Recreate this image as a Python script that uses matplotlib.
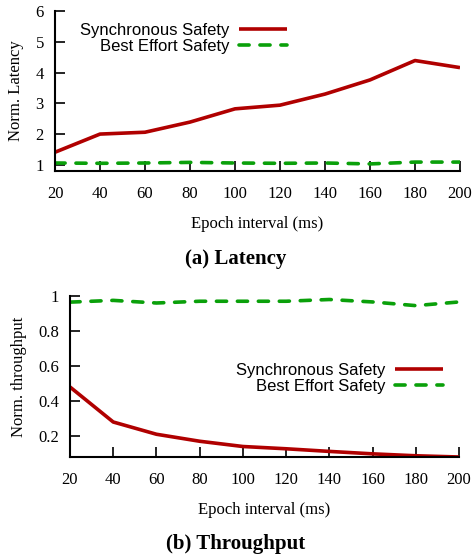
import matplotlib
matplotlib.use("Agg")
import matplotlib.pyplot as plt
import numpy as np

# data
epoch_ms = [20, 40, 60, 80, 100, 120, 140, 160, 180, 200]
lat_sync = [1.41, 2.00, 2.06, 2.39, 2.82, 2.94, 3.30, 3.76, 4.39, 4.16]
lat_best = [1.06, 1.05, 1.06, 1.08, 1.06, 1.05, 1.06, 1.03, 1.09, 1.09]
thr_sync = [0.48, 0.28, 0.21, 0.17, 0.14, 0.127, 0.112, 0.098, 0.087, 0.08]
thr_best = [0.965, 0.975, 0.96, 0.97, 0.97, 0.97, 0.98, 0.966, 0.945, 0.966]
lat_yticks = [1, 2, 3, 4, 5, 6]
thr_yticks = [0.2, 0.4, 0.6, 0.8, 1.0]
thr_yticklabels = ["0.2", "0.4", "0.6", "0.8", "1"]

RED = "#b00000"
GREEN = "#0aa00a"
SERIF = ["Liberation Serif", "DejaVu Serif"]
SANS = ["Liberation Sans", "DejaVu Sans"]


def style_axes(ax):
    for s in ("top", "right"):
        ax.spines[s].set_visible(False)
    for s in ("left", "bottom"):
        ax.spines[s].set_linewidth(1.5)
    ax.tick_params(direction="in", length=7, width=1.2, labelsize=12)
    ax.tick_params(axis="x", pad=11)
    ax.tick_params(axis="y", pad=8)
    for lab in ax.get_xticklabels() + ax.get_yticklabels():
        lab.set_family(SERIF)
    ax.set_xticks(epoch_ms)
    ax.set_xlim(20, 200)
    ax.set_xlabel("Epoch interval (ms)", family=SERIF, fontsize=12, labelpad=10)


def draw(ax, sync, best):
    ax.plot(epoch_ms, sync, color=RED, lw=2.6, label="Synchronous Safety",
            solid_capstyle="butt")
    ax.plot(epoch_ms, best, color=GREEN, lw=2.6, dashes=(2.8, 3.0),
            dash_capstyle="round", label="Best Effort Safety")


def add_legend(ax, anchor):
    ax.legend(loc="center right", bbox_to_anchor=anchor, frameon=False,
              markerfirst=False, handlelength=2.9, handletextpad=0.55,
              labelspacing=0.05, borderpad=0, borderaxespad=0,
              prop={"family": SANS, "size": 12})


fig = plt.figure(figsize=(4.72, 5.6), dpi=100)

# (a) Latency
ax1 = fig.add_axes([55 / 472, 389 / 560, 405 / 472, 160 / 560])
draw(ax1, lat_sync, lat_best)
ax1.set_ylim(0.8, 6)
ax1.set_yticks(lat_yticks)
style_axes(ax1)
ax1.set_ylabel("Norm. Latency", family=SERIF, fontsize=12, labelpad=8)
add_legend(ax1, (0.573, 0.828))
fig.text(0.5, 1 - 259 / 560, "(a) Latency", ha="center", va="center",
         family=SERIF, fontsize=15, fontweight="bold")

# (b) Throughput
ax2 = fig.add_axes([70 / 472, 103 / 560, 389 / 472, 161 / 560])
draw(ax2, thr_sync, thr_best)
ax2.set_ylim(0.08, 1.0)
ax2.set_yticks(thr_yticks)
ax2.set_yticklabels(thr_yticklabels)
style_axes(ax2)
ax2.set_ylabel("Norm. throughput", family=SERIF, fontsize=12, labelpad=8)
add_legend(ax2, (0.959, 0.488))
fig.text(0.5, 1 - 544 / 560, "(b) Throughput", ha="center", va="center",
         family=SERIF, fontsize=15, fontweight="bold")

fig.savefig("out.png", dpi=100)
